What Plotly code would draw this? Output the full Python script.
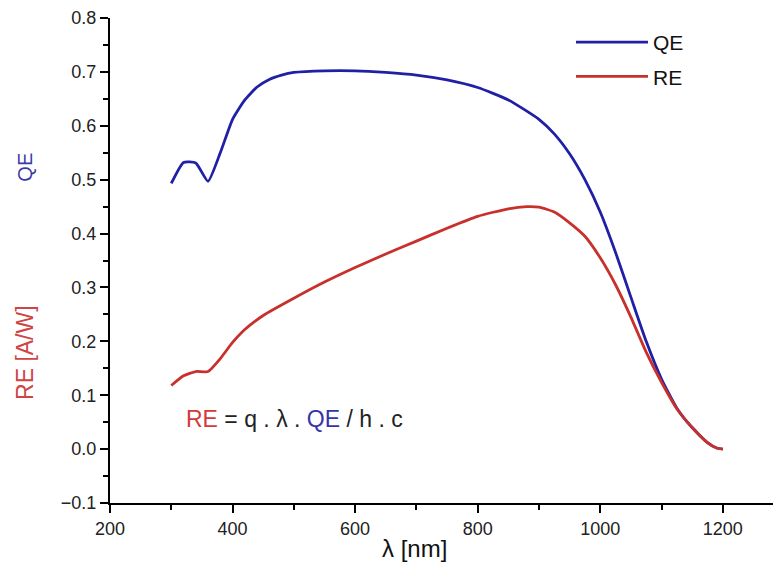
import plotly.graph_objects as go

wavelength_qe = [300, 320, 340, 360, 380, 400, 420, 440, 460, 480, 500, 550, 600, 650, 700, 750,
                 800, 850, 900, 925, 950, 975, 1000, 1025, 1050, 1075, 1100, 1125, 1150, 1175, 1190, 1200]
qe = [0.493, 0.532, 0.531, 0.497, 0.550, 0.612, 0.648, 0.672, 0.686, 0.694, 0.699, 0.702, 0.702, 0.699,
      0.694, 0.685, 0.671, 0.648, 0.612, 0.585, 0.548, 0.500, 0.440, 0.365, 0.282, 0.200, 0.130, 0.076,
      0.040, 0.012, 0.002, 0.000]

wavelength_re = [300, 320, 340, 360, 380, 400, 420, 450, 500, 550, 600, 650, 700, 750, 800, 850, 880,
                 900, 925, 950, 975, 1000, 1025, 1050, 1075, 1100, 1125, 1150, 1175, 1190, 1200]
re = [0.118, 0.136, 0.144, 0.144, 0.168, 0.198, 0.222, 0.248, 0.280, 0.310, 0.337, 0.362, 0.386, 0.410,
      0.432, 0.446, 0.450, 0.449, 0.440, 0.420, 0.395, 0.355, 0.305, 0.245, 0.180, 0.124, 0.075, 0.040,
      0.012, 0.002, 0.000]

BLUE = "#2020a6"
RED = "#c8302c"
FONT = "Liberation Sans, Arial, sans-serif"

fig = go.Figure()
fig.add_trace(go.Scatter(x=wavelength_qe, y=qe, mode="lines", name="QE", legendgroup="a",
                         line=dict(color=BLUE, width=2.8, shape="spline", smoothing=0.5)))
fig.add_trace(go.Scatter(x=wavelength_re, y=re, mode="lines", name="RE", legendgroup="b",
                         line=dict(color=RED, width=2.8, shape="spline", smoothing=0.5)))

fig.update_layout(
    width=773, height=560,
    margin=dict(l=102, r=0, t=10, b=65),
    paper_bgcolor="white", plot_bgcolor="white",
    font=dict(family=FONT, size=18, color="#222"),
    showlegend=True,
    legend=dict(x=0.687, y=0.992, xanchor="left", yanchor="top", bgcolor="rgba(0,0,0,0)",
                font=dict(size=21, color="#111"), itemwidth=72, tracegroupgap=4),
    xaxis=dict(range=[200, 1295], tickmode="linear", tick0=200, dtick=200,
               showline=True, linecolor="black", linewidth=2, ticks="outside", ticklen=8,
               tickwidth=2, tickcolor="black", showgrid=False, zeroline=False,
               minor=dict(ticks="outside", ticklen=5, tickwidth=2, tickcolor="black", dtick=100, tick0=200)),
    yaxis=dict(range=[-0.1, 0.8], tickmode="linear", tick0=-0.1, dtick=0.1, tickformat=".1f",
               showline=True, linecolor="black", linewidth=2, ticks="outside", ticklen=8,
               tickwidth=2, tickcolor="black", showgrid=False, zeroline=False,
               minor=dict(ticks="outside", ticklen=5, tickwidth=2, tickcolor="black", dtick=0.05)),
)

fig.add_annotation(text="λ [nm]", xref="paper", yref="paper", x=0.4545, y=-0.093,
                   xanchor="center", yanchor="middle", showarrow=False,
                   font=dict(size=24, color="#111"))
fig.add_annotation(text="QE", xref="paper", yref="paper", x=-0.127, y=0.693, textangle=-90,
                   xanchor="center", yanchor="middle",
                   showarrow=False, font=dict(size=20, color="#3a3aa8"))
fig.add_annotation(text="RE [A/W]", xref="paper", yref="paper", x=-0.127, y=0.311, textangle=-90,
                   xanchor="center", yanchor="middle",
                   showarrow=False, font=dict(size=23, color="#d04444"))
fig.add_annotation(text="<span style='color:#d43a3a'>RE</span> = q . λ . <span style='color:#3535a8'>QE</span> / h . c",
                   x=320, y=0.055, xanchor="left", yanchor="middle", showarrow=False,
                   font=dict(size=23, color="#222"))

fig.write_html("out.html")
